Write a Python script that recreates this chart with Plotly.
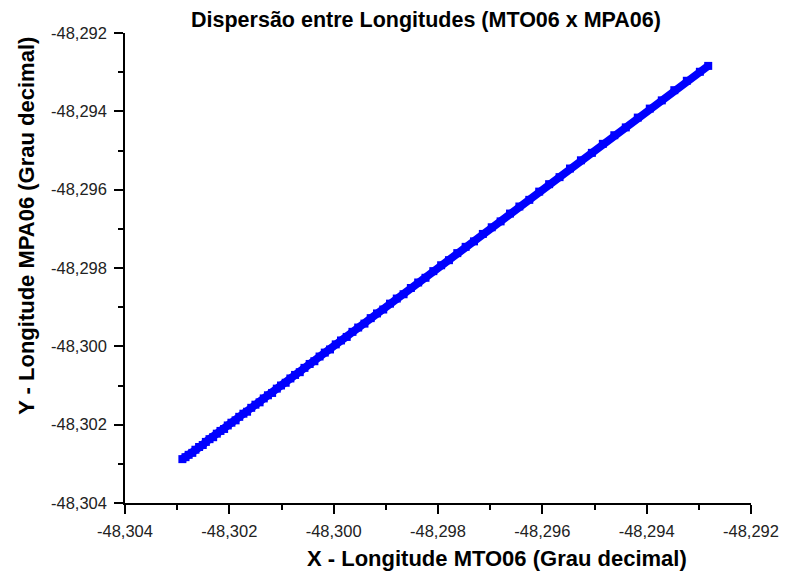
import plotly.graph_objects as go

x_mto06 = [
    -48.30290, -48.30284, -48.30278, -48.30271, -48.30265, -48.30258, -48.30251, -48.30245,
    -48.30238, -48.30231, -48.30224, -48.30217, -48.30210, -48.30203, -48.30196, -48.30188,
    -48.30181, -48.30173, -48.30166, -48.30158, -48.30150, -48.30142, -48.30134, -48.30126,
    -48.30118, -48.30109, -48.30101, -48.30092, -48.30083, -48.30074, -48.30065, -48.30056,
    -48.30046, -48.30037, -48.30027, -48.30017, -48.30007, -48.29996, -48.29986, -48.29975,
    -48.29964, -48.29953, -48.29941, -48.29929, -48.29917, -48.29905, -48.29892, -48.29879,
    -48.29866, -48.29852, -48.29838, -48.29824, -48.29809, -48.29794, -48.29779, -48.29763,
    -48.29747, -48.29731, -48.29714, -48.29697, -48.29680, -48.29662, -48.29644, -48.29625,
    -48.29606, -48.29587, -48.29567, -48.29547, -48.29526, -48.29505, -48.29484, -48.29462,
    -48.29440, -48.29417, -48.29394, -48.29371, -48.29347, -48.29323, -48.29298, -48.29282,
]
y_mpa06 = [
    -48.30288, -48.30283, -48.30277, -48.30272, -48.30264, -48.30257, -48.30252, -48.30244,
    -48.30237, -48.30232, -48.30223, -48.30216, -48.30211, -48.30202, -48.30195, -48.30189,
    -48.30180, -48.30172, -48.30167, -48.30157, -48.30149, -48.30143, -48.30133, -48.30125,
    -48.30119, -48.30108, -48.30100, -48.30093, -48.30082, -48.30073, -48.30066, -48.30055,
    -48.30045, -48.30038, -48.30026, -48.30016, -48.30008, -48.29995, -48.29985, -48.29976,
    -48.29963, -48.29952, -48.29942, -48.29928, -48.29916, -48.29906, -48.29891, -48.29878,
    -48.29867, -48.29851, -48.29837, -48.29825, -48.29808, -48.29793, -48.29780, -48.29762,
    -48.29746, -48.29732, -48.29713, -48.29696, -48.29681, -48.29661, -48.29643, -48.29626,
    -48.29605, -48.29586, -48.29568, -48.29546, -48.29525, -48.29506, -48.29483, -48.29461,
    -48.29441, -48.29416, -48.29393, -48.29372, -48.29346, -48.29322, -48.29299, -48.29284,
]
tick_vals = [-48.304, -48.302, -48.300, -48.298, -48.296, -48.294, -48.292]
tick_text = ["-48,304", "-48,302", "-48,300", "-48,298", "-48,296", "-48,294", "-48,292"]

title_text = "Dispersão entre Longitudes (MTO06 x MPA06)"
x_title = "X - Longitude MTO06 (Grau decimal)"
y_title = "Y - Longitude MPA06 (Grau decimal)"

FONT = "Liberation Sans, Arial, sans-serif"

fig = go.Figure()
fig.add_trace(go.Scatter(
    x=x_mto06, y=y_mpa06, mode="lines+markers",
    marker=dict(symbol="square", size=8, color="#0000ff", line=dict(width=0)),
    line=dict(color="#0000ff", width=8),
    showlegend=False,
))

axis_common = dict(
    range=[-48.304, -48.292],
    tickvals=tick_vals, ticktext=tick_text,
    showgrid=False, zeroline=False,
    showline=True, linecolor="black", linewidth=1.5,
    ticks="outside", ticklen=9, tickwidth=1.5, tickcolor="black",
    tickfont=dict(family=FONT, size=16.5, color="#222222"),
    minor=dict(ticks="outside", ticklen=5, tickwidth=1.5, tickcolor="black",
               dtick=0.001, tick0=-48.304, showgrid=False),
    mirror=False,
)

fig.update_layout(
    width=791, height=579,
    margin=dict(l=125, r=35, t=33, b=76),
    paper_bgcolor="white", plot_bgcolor="white",
    xaxis=dict(axis_common, ticklabelstandoff=3),
    yaxis=dict(axis_common, ticklabelstandoff=4),
    font=dict(family=FONT),
    title=dict(text="<b>" + title_text + "</b>", x=426 / 791, xanchor="center",
               y=1 - 19 / 579, yanchor="middle", xref="container", yref="container",
               font=dict(family=FONT, size=21.5, color="black")),
    annotations=[
        dict(text="<b>" + x_title + "</b>", xref="paper", yref="paper",
             x=(500 - 125) / 631, y=-55 / 470, xanchor="center", yanchor="middle",
             showarrow=False, font=dict(family=FONT, size=22, color="black")),
        dict(text="<b>" + y_title + "</b>", xref="paper", yref="paper",
             x=(25 - 125) / 631, y=(503 - 226) / 470, xanchor="center", yanchor="middle",
             textangle=-90, showarrow=False,
             font=dict(family=FONT, size=22, color="black")),
    ],
)

fig.write_html("out.html")
